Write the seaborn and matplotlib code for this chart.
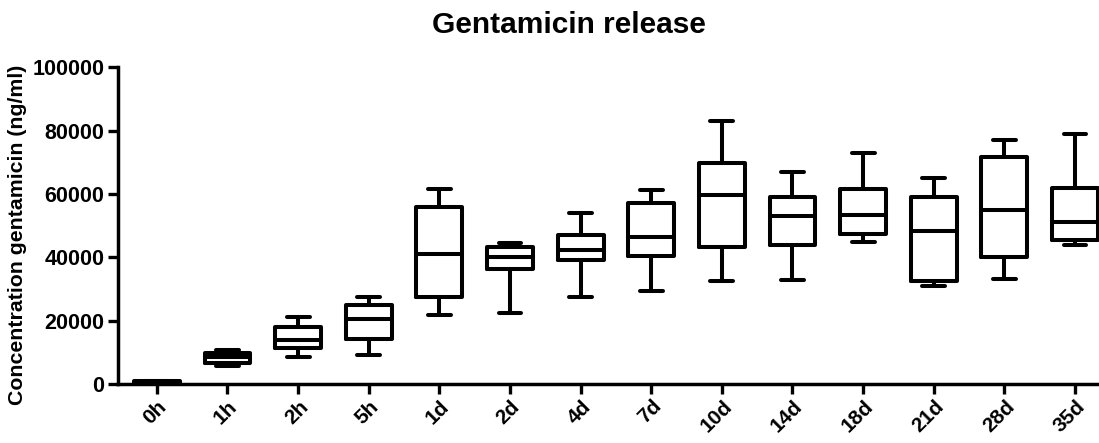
import matplotlib
matplotlib.use("Agg")
import matplotlib.pyplot as plt
import matplotlib.transforms as mtransforms
import seaborn as sns
import pandas as pd

# Sampling time points
categories = ["0h", "1h", "2h", "5h", "1d", "2d", "4d", "7d", "10d", "14d", "18d", "21d", "28d", "35d"]

# Five-number summaries per time point (ng/ml)
mins    = [150,  5800,  8500,  9300, 21700, 22400, 27500, 29400, 32600, 32700, 44900, 31000, 33100, 44000]
q1s     = [250,  6600, 11400, 14200, 27500, 36300, 39200, 40500, 43200, 44000, 47300, 32500, 40100, 45500]
medians = [500,  8500, 13800, 20500, 41100, 40100, 42200, 46500, 59600, 52900, 53400, 48400, 55000, 51300]
q3s     = [800,  9800, 18000, 24900, 56000, 43200, 47000, 57100, 69700, 59000, 61700, 59200, 71800, 62000]
maxs    = [1100, 10600, 21300, 27400, 61600, 44600, 54000, 61300, 83000, 66900, 73100, 65000, 77100, 79100]

# Long-form table: the five summary values of each group reproduce
# the quartiles exactly, whiskers span min..max
rows = []
for cat, a, b, c, d, e in zip(categories, mins, q1s, medians, q3s, maxs):
    for v in (a, b, c, d, e):
        rows.append({"time": cat, "conc": v})
df = pd.DataFrame(rows)

sns.set_style("ticks")
plt.rcParams["font.family"] = ["Liberation Sans", "DejaVu Sans"]
plt.rcParams["font.weight"] = "bold"
plt.rcParams["text.color"] = "black"
plt.rcParams["axes.labelcolor"] = "black"
plt.rcParams["xtick.color"] = "black"
plt.rcParams["ytick.color"] = "black"

fig = plt.figure(figsize=(10.99, 4.43), dpi=100)
ax = fig.add_axes([0.1074, 0.1332, 0.8926, 0.7148])

lw = 2.9
sns.boxplot(data=df, x="time", y="conc", order=categories, whis=(0, 100),
            fill=False, color="black", linecolor="black", linewidth=lw,
            width=0.65, ax=ax,
            medianprops={"color": "black", "linewidth": lw},
            capprops={"linewidth": lw}, whiskerprops={"linewidth": lw})

ax.set_ylim(0, 100000)
ax.set_xlim(-0.55, 13.34)
ax.set_yticks([0, 20000, 40000, 60000, 80000, 100000])
ax.set_yticklabels(["0", "20000", "40000", "60000", "80000", "100000"],
                   fontsize=15.5, fontweight="bold")
ax.set_xticks(range(len(categories)))
ax.set_xticklabels(categories, fontsize=15, fontweight="bold",
                   rotation=45, ha="right", va="center", rotation_mode="anchor")

ax.tick_params(axis="both", direction="out", length=7, width=2.4, colors="black")
ax.tick_params(axis="x", pad=7)
ax.tick_params(axis="y", pad=3)

# nudge the slanted labels a little to the right of their ticks
shift = mtransforms.ScaledTranslation(7 / 100, 0, fig.dpi_scale_trans)
for lbl in ax.get_xticklabels():
    lbl.set_transform(lbl.get_transform() + shift)

for side in ("top", "right"):
    ax.spines[side].set_visible(False)
for side in ("left", "bottom"):
    ax.spines[side].set_linewidth(2.5)
    ax.spines[side].set_color("black")

ax.set_xlabel("")
ax.set_ylabel("Concentration gentamicin (ng/ml)", fontsize=15.3, fontweight="bold", labelpad=4)
ax.yaxis.set_label_coords(-0.093, 0.47)
fig.suptitle("Gentamicin release", fontsize=21.5, fontweight="bold", x=0.518, y=0.975)

fig.savefig("out.png", dpi=100)
